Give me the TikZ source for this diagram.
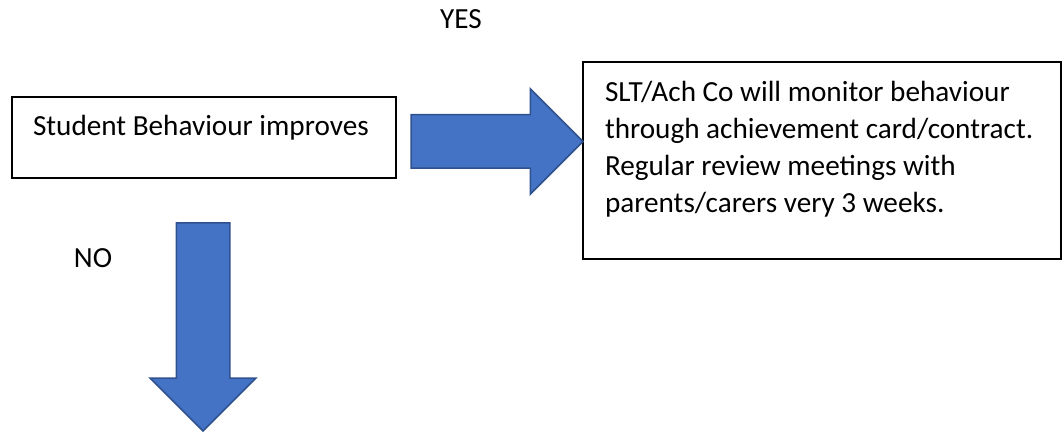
\documentclass[tikz,border=0pt]{standalone}
\usepackage{fontspec}
\setmainfont{Carlito}
\usetikzlibrary{shapes.arrows}
\definecolor{arrowblue}{RGB}{68,114,196}
\definecolor{arrowedge}{RGB}{47,82,143}

\begin{document}
\begin{tikzpicture}[x=0.5pt, y=-0.5pt]
            \tikzset{textbox/.style={draw=black, line width=1pt, inner sep=0pt, outer sep=0pt, anchor=north west, font=\fontsize{14.6pt}{18.5pt}\selectfont}}
            \tikzset{blockarrow/.style={single arrow, draw=arrowedge, line width=0.75pt, fill=arrowblue, inner xsep=0pt, inner ysep=13pt, outer sep=0pt, single arrow head extend=13pt, anchor=tail}}
            \tikzset{answer/.style={font=\fontsize{14.6pt}{18.5pt}\selectfont}}
            \useasboundingbox (0, 0) rectangle (1064, 432);

            \node[textbox, text width=171pt, align=flush left, inner xsep=10.5pt, text height=19.5pt, text depth=21pt] (behaviour) at (12, 97) {Student Behaviour improves};
            \node[textbox] (monitor) at (583, 62) {\parbox[t][98.5pt][t]{239pt}{\raggedright\leftskip=11pt\rule{0pt}{20pt}SLT/Ach Co will monitor behaviour\\
                through achievement card/contract.\\
                Regular review meetings with\\
                parents/carers very 3 weeks.}};

            \node[blockarrow, minimum height=86pt] (yesarrow) at (411, 141.5) {};
            \node[blockarrow, minimum height=104pt, rotate=-90] (noarrow) at (203, 223) {};

            \node[answer] (yes) at (461, 19) {YES};
            \node[answer] (no) at (93, 258) {NO};
        \end{tikzpicture}
\end{document}
